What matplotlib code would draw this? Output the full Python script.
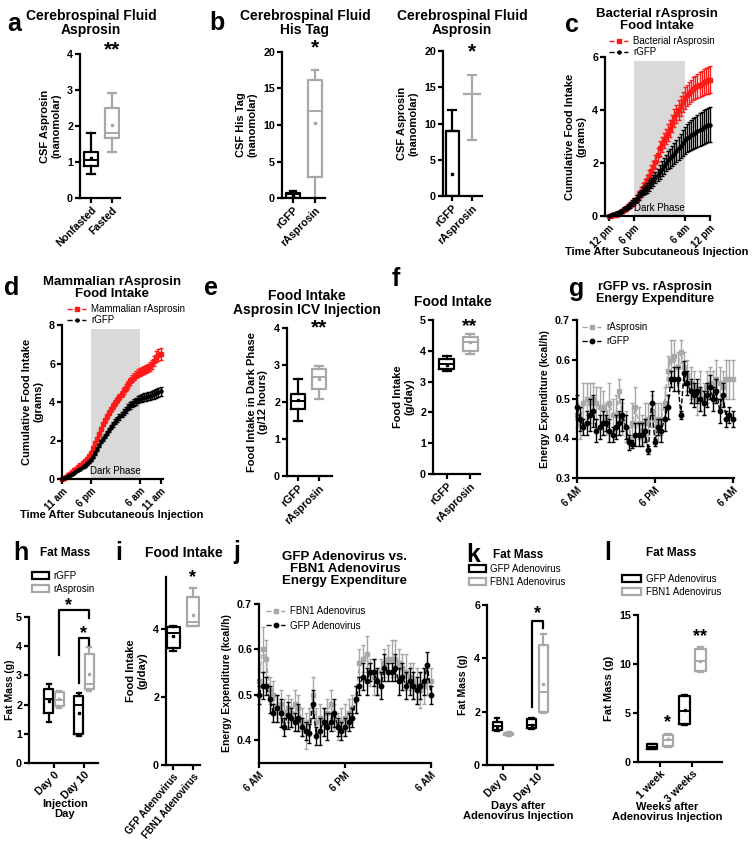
import numpy as np
import matplotlib
matplotlib.use('Agg')
import matplotlib.pyplot as plt
from matplotlib.patches import Patch

plt.rcParams['font.family'] = ['Liberation Sans', 'DejaVu Sans']
plt.rcParams['font.weight'] = 'bold'
plt.rcParams['axes.labelweight'] = 'bold'
plt.rcParams['axes.linewidth'] = 1.6

BLACK = 'black'
GRAY = '#a8a8a8'
RED = '#ff1a1a'
SHADE = '#d9d9d9'

# ---------------- data ----------------
# a: CSF asprosin, box summaries
a_groups = ['Nonfasted', 'Fasted']
a_whislo = [0.68, 1.28]
a_q1 = [0.88, 1.68]
a_med = [1.05, 1.80]
a_q3 = [1.27, 2.50]
a_whishi = [1.80, 2.93]
a_mean = [1.10, 2.04]

# b (left): CSF His tag
b1_groups = ['rGFP', 'rAsprosin']
b1_whislo = [0.0, 0.0]
b1_q1 = [0.05, 2.9]
b1_med = [0.55, 11.9]
b1_q3 = [0.75, 16.2]
b1_whishi = [0.9, 17.5]
b1_mean = [0.4, 10.3]

# b (right): CSF asprosin, mean +/- error
b2_groups = ['rGFP', 'rAsprosin']
b2_mean = [9.0, 14.1]
b2_err_low = [0.0, 6.4]
b2_err_high = [2.9, 2.6]
b2_point = [3.0]

# c: bacterial rAsprosin cumulative food intake (hours after 12 pm)
c_hours = np.arange(0, 24.5, 0.5)
c_dark = (6, 18, 5.85)
c_red = [0.00, 0.00, 0.02, 0.04, 0.08, 0.12, 0.17,
         0.22, 0.28, 0.34, 0.40, 0.47, 0.55, 0.65,
         0.78, 0.92, 1.06, 1.20, 1.35, 1.50, 1.68,
         1.85, 2.05, 2.30, 2.55, 2.70, 2.85, 3.00,
         3.15, 3.30, 3.50, 3.70, 3.85, 4.00, 4.15,
         4.30, 4.45, 4.55, 4.65, 4.72, 4.80, 4.85,
         4.90, 4.95, 5.00, 5.05, 5.10, 5.12, 5.15]
c_red_err = [0.00, 0.01, 0.02, 0.03, 0.04, 0.05, 0.06,
             0.07, 0.08, 0.09, 0.10, 0.11, 0.12, 0.13,
             0.15, 0.17, 0.18, 0.20, 0.21, 0.22, 0.23,
             0.24, 0.25, 0.26, 0.27, 0.28, 0.29, 0.30,
             0.31, 0.32, 0.33, 0.34, 0.35, 0.36, 0.37,
             0.38, 0.40, 0.41, 0.42, 0.43, 0.44, 0.45,
             0.46, 0.47, 0.48, 0.49, 0.50, 0.50, 0.50]
c_black = [0.00, 0.05, 0.08, 0.10, 0.12, 0.15, 0.20,
           0.25, 0.30, 0.35, 0.42, 0.50, 0.57, 0.65,
           0.75, 0.85, 0.95, 1.00, 1.05, 1.15, 1.25,
           1.35, 1.45, 1.55, 1.65, 1.78, 1.90, 2.00,
           2.10, 2.18, 2.25, 2.35, 2.45, 2.55, 2.65,
           2.75, 2.85, 2.95, 3.00, 3.05, 3.10, 3.15,
           3.20, 3.25, 3.30, 3.35, 3.40, 3.43, 3.45]
c_black_err = [0.00, 0.02, 0.03, 0.04, 0.05, 0.06, 0.07,
               0.08, 0.09, 0.10, 0.10, 0.11, 0.12, 0.13,
               0.14, 0.15, 0.16, 0.17, 0.18, 0.19, 0.20,
               0.21, 0.22, 0.24, 0.26, 0.28, 0.30, 0.32,
               0.34, 0.36, 0.38, 0.40, 0.42, 0.44, 0.46,
               0.48, 0.50, 0.52, 0.54, 0.56, 0.58, 0.60,
               0.61, 0.62, 0.63, 0.64, 0.65, 0.65, 0.65]

# d: mammalian rAsprosin cumulative food intake (hours after 11 am)
d_hours = np.arange(0, 24.5, 0.5)
d_dark = (7, 19, 7.8)
d_red = [0.00, 0.05, 0.12, 0.20, 0.28, 0.36, 0.45,
         0.53, 0.62, 0.72, 0.82, 0.93, 1.05, 1.18,
         1.35, 1.60, 1.85, 2.10, 2.35, 2.60, 2.85,
         3.05, 3.25, 3.45, 3.62, 3.80, 3.95, 4.10,
         4.25, 4.42, 4.60, 4.75, 4.92, 5.08, 5.22,
         5.32, 5.42, 5.50, 5.56, 5.62, 5.68, 5.72,
         5.78, 5.85, 5.95, 6.15, 6.35, 6.45, 6.50]
d_red_err = [0.00, 0.01, 0.02, 0.03, 0.03, 0.04, 0.04,
             0.05, 0.05, 0.06, 0.06, 0.07, 0.07, 0.08,
             0.08, 0.09, 0.09, 0.10, 0.10, 0.11, 0.11,
             0.12, 0.12, 0.13, 0.13, 0.14, 0.14, 0.15,
             0.15, 0.16, 0.16, 0.17, 0.17, 0.18, 0.18,
             0.19, 0.19, 0.20, 0.20, 0.21, 0.21, 0.22,
             0.22, 0.23, 0.24, 0.26, 0.28, 0.30, 0.30]
d_black = [0.00, 0.03, 0.08, 0.13, 0.20, 0.26, 0.33,
           0.40, 0.47, 0.54, 0.62, 0.70, 0.80, 0.90,
           1.00, 1.15, 1.35, 1.55, 1.75, 1.95, 2.10,
           2.25, 2.40, 2.55, 2.70, 2.85, 2.98, 3.10,
           3.22, 3.35, 3.48, 3.60, 3.72, 3.82, 3.90,
           3.98, 4.05, 4.12, 4.17, 4.22, 4.26, 4.28,
           4.30, 4.32, 4.35, 4.40, 4.45, 4.50, 4.55]
d_black_err = [0.00, 0.01, 0.01, 0.02, 0.02, 0.03, 0.03,
               0.04, 0.04, 0.05, 0.05, 0.06, 0.06, 0.07,
               0.07, 0.08, 0.08, 0.09, 0.09, 0.10, 0.10,
               0.11, 0.11, 0.12, 0.12, 0.13, 0.13, 0.14,
               0.14, 0.15, 0.15, 0.16, 0.16, 0.17, 0.17,
               0.18, 0.18, 0.19, 0.19, 0.20, 0.20, 0.21,
               0.21, 0.22, 0.22, 0.23, 0.24, 0.25, 0.25]

# e: food intake dark phase, ICV
e_groups = ['rGFP', 'rAsprosin']
e_whislo = [1.50, 2.08]
e_q1 = [1.82, 2.35]
e_med = [2.03, 2.68]
e_q3 = [2.22, 2.88]
e_whishi = [2.62, 2.96]
e_mean = [2.05, 2.62]

# f: food intake g/day
f_groups = ['rGFP', 'rAsprosin']
f_whislo = [3.35, 3.90]
f_q1 = [3.40, 4.00]
f_med = [3.57, 4.30]
f_q3 = [3.75, 4.45]
f_whishi = [3.82, 4.55]
f_mean = [3.55, 4.30]

# g: energy expenditure, hours after 6 AM
g_hours = np.arange(0, 24.5, 0.5)
g_asp = [0.46, 0.44, 0.49, 0.50, 0.49, 0.50, 0.49,
         0.48, 0.48, 0.45, 0.49, 0.46, 0.46, 0.52,
         0.45, 0.43, 0.40, 0.44, 0.48, 0.44, 0.42,
         0.44, 0.45, 0.47, 0.45, 0.44, 0.45, 0.49,
         0.57, 0.60, 0.61, 0.58, 0.62, 0.58, 0.56,
         0.54, 0.53, 0.50, 0.52, 0.50, 0.53, 0.54,
         0.53, 0.55, 0.54, 0.53, 0.55, 0.55, 0.55]
g_asp_err = [0.03, 0.04, 0.05, 0.04, 0.05, 0.04, 0.04,
             0.05, 0.04, 0.04, 0.05, 0.04, 0.05, 0.03,
             0.04, 0.04, 0.03, 0.05, 0.05, 0.04, 0.04,
             0.05, 0.04, 0.04, 0.04, 0.05, 0.04, 0.04,
             0.04, 0.05, 0.04, 0.04, 0.03, 0.04, 0.04,
             0.04, 0.04, 0.04, 0.05, 0.04, 0.04, 0.04,
             0.04, 0.05, 0.04, 0.04, 0.05, 0.05, 0.05]
g_gfp = [0.48, 0.45, 0.43, 0.44, 0.46, 0.47, 0.42,
         0.43, 0.44, 0.44, 0.42, 0.41, 0.43, 0.44,
         0.46, 0.43, 0.39, 0.385, 0.41, 0.41, 0.41,
         0.42, 0.37, 0.49, 0.39, 0.43, 0.42, 0.45,
         0.48, 0.55, 0.55, 0.55, 0.46, 0.565, 0.54,
         0.52, 0.51, 0.52, 0.50, 0.49, 0.51, 0.53,
         0.50, 0.52, 0.47, 0.51, 0.45, 0.46, 0.45]
g_gfp_err = [0.03, 0.03, 0.02, 0.03, 0.04, 0.04, 0.03,
             0.03, 0.03, 0.02, 0.03, 0.02, 0.03, 0.03,
             0.04, 0.03, 0.02, 0.01, 0.03, 0.03, 0.03,
             0.03, 0.01, 0.03, 0.01, 0.02, 0.03, 0.03,
             0.03, 0.02, 0.03, 0.03, 0.01, 0.03, 0.03,
             0.03, 0.03, 0.03, 0.03, 0.03, 0.03, 0.03,
             0.03, 0.03, 0.03, 0.03, 0.02, 0.02, 0.02]

# h: fat mass (rGFP d0, rAsprosin d0, rGFP d10, rAsprosin d10)
h_groups = ['Day 0', 'Day 10']
h_whislo = [1.40, 1.90, 0.92, 2.48]
h_q1 = [1.70, 1.95, 1.00, 2.55]
h_med = [2.20, 2.15, 2.00, 2.72]
h_q3 = [2.52, 2.43, 2.28, 3.72]
h_whishi = [2.70, 2.45, 2.40, 3.98]
h_mean = [2.12, 2.20, 1.70, 3.05]
# brackets: (left box, right box, top, left leg end, right leg end)
h_brackets = [(1, 3, 5.23, 3.70, 4.95), (2, 3, 4.28, 2.75, 4.03)]

# i: food intake adenovirus
i_groups = ['GFP Adenovirus', 'FBN1 Adenovirus']
i_whislo = [3.35, 4.08]
i_q1 = [3.45, 4.10]
i_med = [3.87, 4.20]
i_q3 = [4.05, 4.95]
i_whishi = [4.08, 5.20]
i_mean = [3.78, 4.40]

# j: energy expenditure adenovirus
j_hours = np.arange(0, 24.5, 0.5)
j_fbn = [0.53, 0.60, 0.58, 0.51, 0.50, 0.47, 0.48,
         0.46, 0.47, 0.46, 0.48, 0.47, 0.44, 0.42,
         0.44, 0.50, 0.44, 0.45, 0.44, 0.46, 0.48,
         0.45, 0.43, 0.44, 0.45, 0.46, 0.47, 0.49,
         0.57, 0.58, 0.59, 0.55, 0.54, 0.53, 0.55,
         0.57, 0.58, 0.58, 0.58, 0.57, 0.56, 0.55,
         0.54, 0.53, 0.52, 0.51, 0.52, 0.53, 0.53]
j_fbn_err = [0.03, 0.05, 0.04, 0.03, 0.03, 0.03, 0.03,
             0.03, 0.03, 0.03, 0.03, 0.03, 0.03, 0.04,
             0.03, 0.04, 0.03, 0.03, 0.03, 0.03, 0.03,
             0.03, 0.03, 0.03, 0.03, 0.03, 0.03, 0.03,
             0.03, 0.03, 0.04, 0.03, 0.04, 0.03, 0.03,
             0.03, 0.03, 0.04, 0.04, 0.03, 0.03, 0.04,
             0.03, 0.04, 0.04, 0.04, 0.04, 0.03, 0.03]
j_gfp = [0.50, 0.52, 0.52, 0.49, 0.46, 0.47, 0.46,
         0.43, 0.455, 0.45, 0.44, 0.45, 0.43, 0.42,
         0.415, 0.48, 0.41, 0.42, 0.44, 0.43, 0.44,
         0.46, 0.43, 0.42, 0.43, 0.44, 0.45, 0.49,
         0.52, 0.54, 0.53, 0.55, 0.55, 0.53, 0.52,
         0.56, 0.55, 0.55, 0.56, 0.53, 0.54, 0.52,
         0.53, 0.52, 0.51, 0.52, 0.53, 0.565, 0.50]
j_gfp_err = [0.02, 0.03, 0.02, 0.03, 0.02, 0.03, 0.03,
             0.02, 0.03, 0.02, 0.02, 0.03, 0.02, 0.02,
             0.02, 0.03, 0.02, 0.03, 0.03, 0.03, 0.02,
             0.03, 0.02, 0.02, 0.02, 0.02, 0.02, 0.03,
             0.02, 0.03, 0.03, 0.02, 0.03, 0.03, 0.03,
             0.03, 0.02, 0.02, 0.03, 0.03, 0.03, 0.03,
             0.03, 0.03, 0.03, 0.03, 0.03, 0.03, 0.02]

# k: fat mass after adenovirus (GFP d0, FBN1 d0, GFP d10, FBN1 d10)
k_groups = ['Day 0', 'Day 10']
k_whislo = [1.28, 1.10, 1.35, 1.95]
k_q1 = [1.32, 1.12, 1.40, 2.00]
k_med = [1.45, 1.16, 1.50, 2.72]
k_q3 = [1.62, 1.20, 1.72, 4.50]
k_whishi = [1.78, 1.22, 1.78, 4.90]
k_mean = [1.42, 1.16, 1.50, 3.05]
k_brackets = [(2, 3, 5.41, 2.19, 5.12)]

# l: fat mass weeks after adenovirus (GFP 1wk, FBN1 1wk, GFP 3wk, FBN1 3wk)
l_groups = ['1 week', '3 weeks']
l_whislo = [1.30, 1.50, 3.80, 9.20]
l_q1 = [1.35, 1.60, 3.85, 9.30]
l_med = [1.55, 2.20, 5.20, 10.30]
l_q3 = [1.80, 2.75, 6.70, 11.50]
l_whishi = [1.85, 2.90, 6.80, 11.70]
l_mean = [1.55, 2.35, 5.30, 10.30]

# ---------------- drawing ----------------
W, H = 754, 842
fig = plt.figure(figsize=(W / 100, H / 100), dpi=100)


def add_ax(x0, y0, x1, y1):
    ax = fig.add_axes([x0 / W, 1 - y1 / H, (x1 - x0) / W, (y1 - y0) / H])
    ax.spines['top'].set_visible(False)
    ax.spines['right'].set_visible(False)
    ax.tick_params(width=1.6, length=3.5, labelsize=7.7, pad=1.5)
    return ax


def ftext(x, y, s, size=10, ha='center', va='center', **kw):
    fig.text(x / W, 1 - y / H, s, fontsize=size, ha=ha, va=va, **kw)


def boxes(ax, whislo, q1, med, q3, whishi, mean, positions, colors, width):
    stats = [dict(whislo=w0, q1=b0, med=m0, q3=b1, whishi=w1, mean=mu)
             for w0, b0, m0, b1, w1, mu in zip(whislo, q1, med, q3, whishi, mean)]
    art = ax.bxp(stats, positions=positions, widths=width, showmeans=True,
                 showfliers=False, manage_ticks=False)
    for i, col in enumerate(colors):
        art['boxes'][i].set(color=col, linewidth=1.6)
        art['medians'][i].set(color=col, linewidth=1.4)
        art['means'][i].set(marker='s', markersize=1.8, markerfacecolor=col,
                            markeredgecolor=col)
        for ln in art['whiskers'][2 * i:2 * i + 2] + art['caps'][2 * i:2 * i + 2]:
            ln.set(color=col, linewidth=1.6)


def cat_ticks(ax, pos, labels, rot=45, size=None):
    ax.set_xticks(pos)
    ax.set_xticklabels(labels, rotation=rot, ha='right', rotation_mode='anchor')
    if size:
        ax.tick_params(axis='x', labelsize=size)


def series(ax, x, y, err, color, marker, ms, label):
    ax.errorbar(x, y, yerr=err, fmt='none', ecolor=color, elinewidth=1,
                capsize=1.6, capthick=1, clip_on=False)
    line, = ax.plot(x, y, linestyle='--', color=color, marker=marker, markersize=ms,
                    linewidth=1, label=label, clip_on=False)
    return line


def leg(ax, handles, x, y, spacing=0.2, hl=1.8):
    ax.legend(handles=handles, loc='upper left', bbox_to_anchor=(x / W, 1 - y / H),
              bbox_transform=fig.transFigure, frameon=False,
              prop={'size': 7, 'weight': 'normal'}, handlelength=hl,
              handletextpad=0.5, labelspacing=spacing, borderpad=0, borderaxespad=0)


def bracket(ax, pos, spec):
    lft, rgt, top, lbot, rbot = spec
    ax.plot([pos[lft], pos[lft], pos[rgt], pos[rgt]], [lbot, top, top, rbot],
            color=BLACK, linewidth=1.6, clip_on=False)


# ---- a ----
ax = add_ax(80, 54, 120, 198)
boxes(ax, a_whislo, a_q1, a_med, a_q3, a_whishi, a_mean, [0, 1], [BLACK, GRAY], 0.7)
ax.set_xlim(-0.52, 1.38)
ax.set_ylim(0, 4)
ax.set_yticks([0, 1, 2, 3, 4])
cat_ticks(ax, [0, 1], a_groups)
ax.set_ylabel('CSF Asprosin\n(nanomolar)', fontsize=8, labelpad=4)
ax.text(1, 3.85, '**', ha='center', va='bottom', fontsize=15)
ftext(91, 23, 'Cerebrospinal Fluid\nAsprosin', size=10, linespacing=1.0)
ftext(14, 24, 'a', size=18)

# ---- b left ----
ax = add_ax(282, 52, 325, 198)
boxes(ax, b1_whislo, b1_q1, b1_med, b1_q3, b1_whishi, b1_mean, [0, 1], [BLACK, GRAY], 0.6)
ax.set_xlim(-0.5, 1.45)
ax.set_ylim(0, 20)
ax.set_yticks([0, 5, 10, 15, 20])
cat_ticks(ax, [0, 1], b1_groups)
ax.set_ylabel('CSF His Tag\n(nanomolar)', fontsize=8, labelpad=4)
ax.text(1, 19.3, '*', ha='center', va='bottom', fontsize=15)
ftext(305, 23, 'Cerebrospinal Fluid\nHis Tag', size=10, linespacing=1.0)
ftext(217, 23, 'b', size=18)

# ---- b right ----
ax = add_ax(443, 51, 482, 196)
ax.bar([0], b2_mean[:1], width=0.65, facecolor='white', edgecolor=BLACK, linewidth=1.6)
ax.errorbar([0], b2_mean[:1], yerr=[b2_err_low[:1], b2_err_high[:1]], fmt='none',
            ecolor=BLACK, elinewidth=1.6, capsize=3.5, capthick=1.6)
ax.plot([0], b2_point, 's', color=BLACK, markersize=2)
ax.errorbar([1], b2_mean[1:], yerr=[b2_err_low[1:], b2_err_high[1:]], fmt='_',
            color=GRAY, markersize=13, markeredgewidth=1.6, elinewidth=1.6,
            capsize=3.5, capthick=1.6)
ax.set_xlim(-0.45, 1.5)
ax.set_ylim(0, 20)
ax.set_yticks([0, 5, 10, 15, 20])
cat_ticks(ax, [0, 1], b2_groups)
ax.set_ylabel('CSF Asprosin\n(nanomolar)', fontsize=8, labelpad=4)
ax.text(1, 18.6, '*', ha='center', va='bottom', fontsize=15)
ftext(462, 23, 'Cerebrospinal Fluid\nAsprosin', size=10, linespacing=1.0)

# ---- c ----
ax = add_ax(605, 57, 710, 216)
ax.axvspan(c_dark[0], c_dark[1], ymin=0, ymax=c_dark[2] / 6, color=SHADE, lw=0, zorder=0)
ax.text((c_dark[0] + c_dark[1]) / 2, 0.12, 'Dark Phase', ha='center', va='bottom',
        fontsize=7, fontweight='normal')
l1 = series(ax, c_hours, c_red, c_red_err, RED, 's', 2.2, 'Bacterial rAsprosin')
l2 = series(ax, c_hours, c_black, c_black_err, BLACK, 'o', 2.2, 'rGFP')
ax.set_xlim(-1, 24)
ax.set_ylim(0, 6)
ax.set_yticks([0, 2, 4, 6])
cat_ticks(ax, [0, 6, 18, 24], ['12 pm', '6 pm', '6 am', '12 pm'], size=7)
ax.set_ylabel('Cumulative Food Intake\n(grams)', fontsize=8, labelpad=4)
leg(ax, [l1, l2], 609, 36, spacing=0.15, hl=2.0)
ftext(657, 252, 'Time After Subcutaneous Injection', size=8)
ftext(657, 20, 'Bacterial rAsprosin\nFood Intake', size=9.5, linespacing=1.0)
ftext(572, 25, 'c', size=18)

# ---- d ----
ax = add_ax(62, 325, 163, 479)
ax.axvspan(d_dark[0], d_dark[1], ymin=0, ymax=d_dark[2] / 8, color=SHADE, lw=0, zorder=0)
ax.text((d_dark[0] + d_dark[1]) / 2, 0.15, 'Dark Phase', ha='center', va='bottom',
        fontsize=7, fontweight='normal')
l1 = series(ax, d_hours, d_red, d_red_err, RED, 's', 2.2, 'Mammalian rAsprosin')
l2 = series(ax, d_hours, d_black, d_black_err, BLACK, 'o', 2.2, 'rGFP')
ax.set_xlim(0, 24.6)
ax.set_ylim(0, 8)
ax.set_yticks([0, 2, 4, 6, 8])
cat_ticks(ax, [0, 7, 19, 24], ['11 am', '6 pm', '6 am', '11 am'], size=7)
ax.set_ylabel('Cumulative Food Intake\n(grams)', fontsize=8, labelpad=4)
leg(ax, [l1, l2], 67, 304, spacing=0.15, hl=2.0)
ftext(112, 515, 'Time After Subcutaneous Injection', size=8)
ftext(112, 288, 'Mammalian rAsprosin\nFood Intake', size=9.5, linespacing=1.0)
ftext(12, 288, 'd', size=18)

# ---- e ----
ax = add_ax(287, 328, 332, 476)
boxes(ax, e_whislo, e_q1, e_med, e_q3, e_whishi, e_mean, [0, 1], [BLACK, GRAY], 0.7)
ax.set_xlim(-0.52, 1.62)
ax.set_ylim(0, 4)
ax.set_yticks([0, 1, 2, 3, 4])
cat_ticks(ax, [0, 1], e_groups)
ax.set_ylabel('Food Intake in Dark Phase\n(g/12 hours)', fontsize=8, labelpad=4)
ax.text(1, 3.75, '**', ha='center', va='bottom', fontsize=15)
ftext(307, 303, 'Food Intake\nAsprosin ICV Injection', size=10, linespacing=1.0)
ftext(211, 288, 'e', size=18)

# ---- f ----
ax = add_ax(433, 320, 480, 474)
boxes(ax, f_whislo, f_q1, f_med, f_q3, f_whishi, f_mean, [0, 1], [BLACK, GRAY], 0.65)
ax.set_xlim(-0.6, 1.43)
ax.set_ylim(0, 5)
ax.set_yticks([0, 1, 2, 3, 4, 5])
cat_ticks(ax, [0, 1], f_groups)
ax.set_ylabel('Food Intake\n(g/day)', fontsize=8, labelpad=4)
ax.text(1, 4.5, '**', ha='center', va='bottom', fontsize=14)
ftext(453, 302, 'Food Intake', size=10)
ftext(396, 279, 'f', size=18)

# ---- g ----
ax = add_ax(577, 320, 734, 478)
l1 = series(ax, g_hours, g_asp, g_asp_err, GRAY, 's', 3.2, 'rAsprosin')
l2 = series(ax, g_hours, g_gfp, g_gfp_err, BLACK, 'o', 3.2, 'rGFP')
ax.set_xlim(0, 24.2)
ax.set_ylim(0.3, 0.7)
ax.set_yticks([0.3, 0.4, 0.5, 0.6, 0.7])
cat_ticks(ax, [0, 12, 24], ['6 AM', '6 PM', '6 AM'], size=7)
ax.set_ylabel('Energy Expenditure (kcal/h)', fontsize=7.5, labelpad=4)
leg(ax, [l1, l2], 582, 322, spacing=0.45, hl=2.0)
ftext(655, 293, 'rGFP vs. rAsprosin\nEnergy Expenditure', size=9, linespacing=1.0)
ftext(577, 289, 'g', size=18)

# ---- h ----
h_pos = [-0.17, 0.17, 0.83, 1.17]
ax = add_ax(29, 617, 98, 763)
boxes(ax, h_whislo, h_q1, h_med, h_q3, h_whishi, h_mean, h_pos,
      [BLACK, GRAY, BLACK, GRAY], 0.3)
for spec in h_brackets:
    bracket(ax, h_pos, spec)
ax.text(0.5, 5.1, '*', ha='center', va='bottom', fontsize=13)
ax.text(1.0, 4.15, '*', ha='center', va='bottom', fontsize=13)
ax.set_xlim(-0.83, 1.47)
ax.set_ylim(0, 5)
ax.set_yticks([0, 1, 2, 3, 4, 5])
cat_ticks(ax, [0, 1], h_groups)
ax.set_ylabel('Fat Mass (g)', fontsize=7.5, labelpad=1)
leg(ax, [Patch(facecolor='white', edgecolor=BLACK, linewidth=1.6, label='rGFP'),
         Patch(facecolor='white', edgecolor=GRAY, linewidth=1.6, label='rAsprosin')],
    32, 571, spacing=0.3, hl=1.7)
ftext(65, 809, 'Injection\nDay', size=8, linespacing=1.1)
ftext(65, 553, 'Fat Mass', size=8.5)
ftext(21, 553, 'h', size=18)

# ---- i ----
ax = add_ax(166, 577, 200, 765)
boxes(ax, i_whislo, i_q1, i_med, i_q3, i_whishi, i_mean, [0, 1], [BLACK, GRAY], 0.65)
ax.set_xlim(-0.35, 1.35)
ax.set_ylim(0, 5.53)
ax.set_yticks([0, 2, 4])
cat_ticks(ax, [0, 1], i_groups, rot=50, size=7.0)
ax.set_ylabel('Food Intake\n(g/day)', fontsize=8, labelpad=4)
ax.text(1, 5.25, '*', ha='center', va='bottom', fontsize=13)
ftext(184, 553, 'Food Intake', size=10)
ftext(119, 553, 'i', size=18)

# ---- j ----
ax = add_ax(259, 604, 431, 763)
l1 = series(ax, j_hours, j_fbn, j_fbn_err, GRAY, 's', 3.2, 'FBN1 Adenovirus')
l2 = series(ax, j_hours, j_gfp, j_gfp_err, BLACK, 'o', 3.2, 'GFP Adenovirus')
ax.set_xlim(0, 24)
ax.set_ylim(0.35, 0.7)
ax.set_yticks([0.4, 0.5, 0.6, 0.7])
cat_ticks(ax, [0, 12, 24], ['6 AM', '6 PM', '6 AM'], size=7)
ax.set_ylabel('Energy Expenditure (kcal/h)', fontsize=7.5, labelpad=4)
leg(ax, [l1, l2], 266, 606, spacing=0.5, hl=2.0)
ftext(345, 569, 'GFP Adenovirus vs.\nFBN1 Adenovirus\nEnergy Expenditure', size=9.5,
      linespacing=1.0)
ftext(237, 552, 'j', size=18)

# ---- k ----
k_pos = [-0.17, 0.17, 0.83, 1.17]
ax = add_ax(487, 605, 553, 765)
boxes(ax, k_whislo, k_q1, k_med, k_q3, k_whishi, k_mean, k_pos,
      [BLACK, GRAY, BLACK, GRAY], 0.26)
for spec in k_brackets:
    bracket(ax, k_pos, spec)
ax.text(1.0, 5.35, '*', ha='center', va='bottom', fontsize=13)
ax.set_xlim(-0.46, 1.45)
ax.set_ylim(0, 6)
ax.set_yticks([0, 2, 4, 6])
cat_ticks(ax, [0, 1], k_groups)
ax.set_ylabel('Fat Mass (g)', fontsize=7.5, labelpad=4)
leg(ax, [Patch(facecolor='white', edgecolor=BLACK, linewidth=1.6, label='GFP Adenovirus'),
         Patch(facecolor='white', edgecolor=GRAY, linewidth=1.6, label='FBN1 Adenovirus')],
    469, 564, spacing=0.3, hl=1.7)
ftext(518, 811, 'Days after\nAdenovirus Injection', size=8, linespacing=1.1)
ftext(518, 555, 'Fat Mass', size=8.5)
ftext(473, 555, 'k', size=18)

# ---- l ----
l_pos = [-0.245, 0.245, 0.755, 1.245]
ax = add_ax(638, 615, 722, 762)
boxes(ax, l_whislo, l_q1, l_med, l_q3, l_whishi, l_mean, l_pos,
      [BLACK, GRAY, BLACK, GRAY], 0.33)
ax.text(l_pos[1], 3.2, '*', ha='center', va='bottom', fontsize=13)
ax.text(l_pos[3], 11.9, '**', ha='center', va='bottom', fontsize=13)
ax.set_xlim(-0.68, 1.91)
ax.set_ylim(0, 15)
ax.set_yticks([0, 5, 10, 15])
cat_ticks(ax, [0, 1], l_groups)
ax.set_ylabel('Fat Mass (g)', fontsize=8, labelpad=4)
leg(ax, [Patch(facecolor='white', edgecolor=BLACK, linewidth=1.6, label='GFP Adenovirus'),
         Patch(facecolor='white', edgecolor=GRAY, linewidth=1.6, label='FBN1 Adenovirus')],
    622, 574, spacing=0.3, hl=2.0)
ftext(667, 812, 'Weeks after\nAdenovirus Injection', size=8, linespacing=1.1)
ftext(671, 553, 'Fat Mass', size=8.5)
ftext(608, 553, 'l', size=18)

fig.savefig('out.png', dpi=100)
